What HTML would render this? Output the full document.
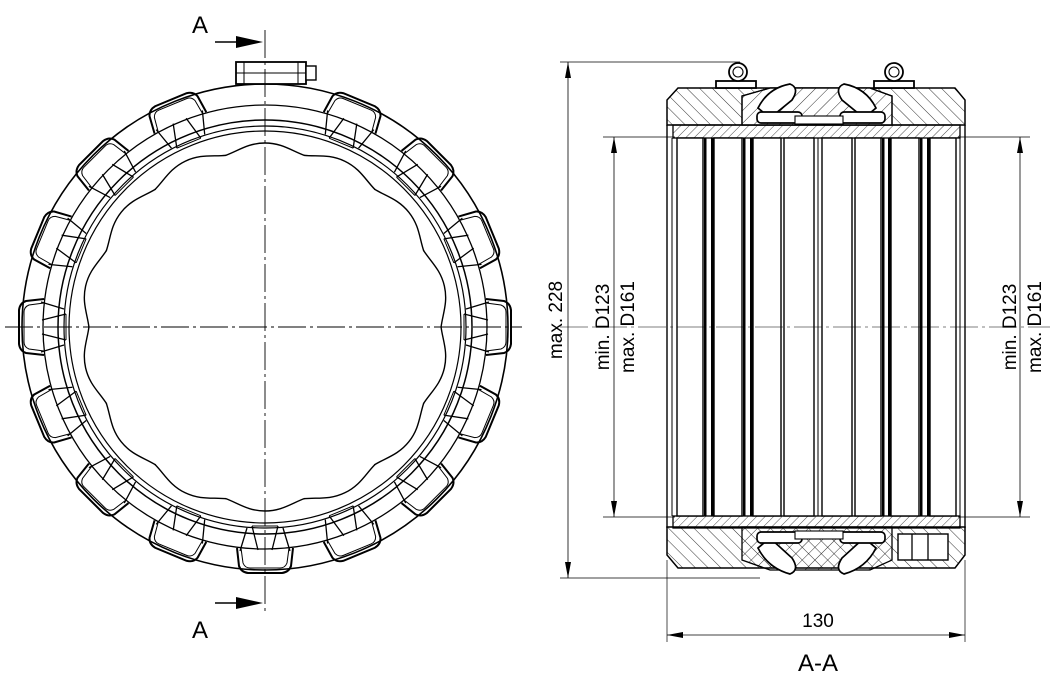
<!DOCTYPE html>
<html><head><meta charset="utf-8"><style>
html,body{margin:0;padding:0;background:#fff}
svg{display:block}
text{font-family:"Liberation Sans",sans-serif;fill:#000}
</style></head><body>
<svg width="1055" height="679" viewBox="0 0 1055 679" xmlns="http://www.w3.org/2000/svg">
<defs>
<pattern id="h1" patternUnits="userSpaceOnUse" width="9" height="9" patternTransform="rotate(45)"><line x1="0" y1="0" x2="0" y2="9" stroke="#000" stroke-width="0.8"/></pattern>
<pattern id="h2" patternUnits="userSpaceOnUse" width="9" height="9" patternTransform="rotate(-45)"><line x1="0" y1="0" x2="0" y2="9" stroke="#000" stroke-width="0.8"/></pattern>
<pattern id="h3" patternUnits="userSpaceOnUse" width="6" height="6" patternTransform="rotate(45)"><line x1="0" y1="0" x2="0" y2="6" stroke="#000" stroke-width="0.7"/></pattern>
<g id="pad">
  <path d="M237 106 L239 88 Q241 82 248 81 L282 81 Q289 82 291 88 L293 106" fill="none" stroke="#000" stroke-width="2"/>
  <path d="M241 106 L243 91 Q245 86 250 86 L280 86 Q285 86 287 91 L289 106" fill="none" stroke="#000" stroke-width="1"/>
  <path d="M247 126 L240 103 M252 128 L258 104 M283 126 L290 103 M278 128 L272 104" fill="none" stroke="#000" stroke-width="1.3"/>
  <path d="M252 128 L278 128" stroke="#000" stroke-width="1"/>
</g>
<g id="lobe">
  <path d="M225.4 155.5 C238 151 248 143 265 143 C282 143 292 151 304.6 155.5" fill="none" stroke="#000" stroke-width="1.4"/>
</g>
</defs>

<g>
  <circle cx="265" cy="327" r="243" fill="none" stroke="#000" stroke-width="1.6"/>
  <circle cx="265" cy="327" r="222" fill="none" stroke="#000" stroke-width="1.3"/>
  <circle cx="265" cy="327" r="207" fill="none" stroke="#000" stroke-width="1.5"/>
  <circle cx="265" cy="327" r="201" fill="none" stroke="#000" stroke-width="1.2"/>
  <circle cx="265" cy="327" r="196" fill="none" stroke="#000" stroke-width="1.2"/>
  <g>
    <use href="#pad" transform="rotate(22.5 265 327)"/>
    <use href="#pad" transform="rotate(45 265 327)"/>
    <use href="#pad" transform="rotate(67.5 265 327)"/>
    <use href="#pad" transform="rotate(90 265 327)"/>
    <use href="#pad" transform="rotate(112.5 265 327)"/>
    <use href="#pad" transform="rotate(135 265 327)"/>
    <use href="#pad" transform="rotate(157.5 265 327)"/>
    <use href="#pad" transform="rotate(180 265 327)"/>
    <use href="#pad" transform="rotate(202.5 265 327)"/>
    <use href="#pad" transform="rotate(225 265 327)"/>
    <use href="#pad" transform="rotate(247.5 265 327)"/>
    <use href="#pad" transform="rotate(270 265 327)"/>
    <use href="#pad" transform="rotate(292.5 265 327)"/>
    <use href="#pad" transform="rotate(315 265 327)"/>
    <use href="#pad" transform="rotate(337.5 265 327)"/>
  </g>
  <rect x="236" y="62" width="70" height="22" fill="#fff" stroke="#000" stroke-width="1.8"/>
  <line x1="244" y1="62" x2="244" y2="84" stroke="#000"/>
  <line x1="298" y1="62" x2="298" y2="84" stroke="#000"/>
  <rect x="306" y="66" width="10" height="14" fill="#fff" stroke="#000" stroke-width="1.4"/>
  <line x1="236" y1="73" x2="306" y2="73" stroke="#000" stroke-width="1"/>
  <g>
    <use href="#lobe"/>
    <use href="#lobe" transform="rotate(25.714 265 327)"/>
    <use href="#lobe" transform="rotate(51.43 265 327)"/>
    <use href="#lobe" transform="rotate(77.14 265 327)"/>
    <use href="#lobe" transform="rotate(102.86 265 327)"/>
    <use href="#lobe" transform="rotate(128.57 265 327)"/>
    <use href="#lobe" transform="rotate(154.29 265 327)"/>
    <use href="#lobe" transform="rotate(180 265 327)"/>
    <use href="#lobe" transform="rotate(205.71 265 327)"/>
    <use href="#lobe" transform="rotate(231.43 265 327)"/>
    <use href="#lobe" transform="rotate(257.14 265 327)"/>
    <use href="#lobe" transform="rotate(282.86 265 327)"/>
    <use href="#lobe" transform="rotate(308.57 265 327)"/>
    <use href="#lobe" transform="rotate(334.29 265 327)"/>
  </g>
  <line x1="265" y1="30" x2="265" y2="612" stroke="#000" stroke-width="0.9" stroke-dasharray="28 4 3 4"/>
  <line x1="5" y1="327" x2="522" y2="327" stroke="#000" stroke-width="0.9" stroke-dasharray="28 4 3 4"/>
  <line x1="215" y1="42" x2="240" y2="42" stroke="#000" stroke-width="1.6"/>
  <polygon points="236,36 263,42 236,48" fill="#000"/>
  <line x1="215" y1="603" x2="240" y2="603" stroke="#000" stroke-width="1.6"/>
  <polygon points="236,597 263,603 236,609" fill="#000"/>
  <text x="192" y="33" font-size="24">A</text>
  <text x="192" y="638" font-size="24">A</text>
</g>

<g stroke="#000">
  <line x1="560" y1="62" x2="740" y2="62" stroke-width="0.7"/>
  <line x1="560" y1="578" x2="760" y2="578" stroke-width="0.7"/>
  <line x1="603" y1="137" x2="675" y2="137" stroke-width="0.7"/>
  <line x1="603" y1="517" x2="675" y2="517" stroke-width="0.7"/>
  <line x1="958" y1="137" x2="1030" y2="137" stroke-width="0.7"/>
  <line x1="958" y1="517" x2="1030" y2="517" stroke-width="0.7"/>
  <line x1="667" y1="560" x2="667" y2="642" stroke-width="0.7"/>
  <line x1="965" y1="560" x2="965" y2="642" stroke-width="0.7"/>

  <path d="M678 88 L955 88 L965 100 L965 125 L667 125 L667 100 Z" fill="url(#h2)" stroke-width="1.5"/>
  <path d="M742 125 L742 96 L770 88 L870 88 L892 96 L892 125 Z" fill="#fff" stroke-width="1.3"/>
  <path d="M742 125 L742 96 L770 88 L870 88 L892 96 L892 125 Z" fill="url(#h1)" stroke-width="1.3"/>
  <path d="M758 108 Q768 88 790 84 Q800 88 792 100 L770 118 Z" fill="#fff" stroke-width="1.7"/>
  <path d="M876 108 Q866 88 844 84 Q834 88 842 100 L864 118 Z" fill="#fff" stroke-width="1.7"/>
  <rect x="757" y="112" width="45" height="11" rx="4" fill="#fff" stroke-width="1.7"/>
  <rect x="840" y="112" width="45" height="11" rx="4" fill="#fff" stroke-width="1.7"/>
  <rect x="795" y="116" width="48" height="8" fill="#fff" stroke-width="1.1"/>
  <rect x="716" y="81" width="40" height="7" fill="#fff" stroke-width="1.8"/>
  <circle cx="738" cy="72" r="9" fill="#fff" stroke-width="1.8"/><circle cx="738" cy="72" r="5" fill="none" stroke-width="1.1"/>
  <rect x="874" y="81" width="40" height="7" fill="#fff" stroke-width="1.8"/>
  <circle cx="894" cy="72" r="9" fill="#fff" stroke-width="1.8"/><circle cx="894" cy="72" r="5" fill="none" stroke-width="1.1"/>
  <rect x="673" y="125" width="287" height="13" fill="url(#h3)" stroke-width="1.3"/>

  <path d="M667 527 L965 527 L965 555 L955 568 L678 568 L667 555 Z" fill="url(#h2)" stroke-width="1.5"/>
  <path d="M742 527 L742 560 L770 570 L870 570 L892 560 L892 527 Z" fill="url(#h1)" stroke-width="1.3"/>
  <path d="M758 548 Q768 568 790 574 Q800 570 792 558 L770 538 Z" fill="#fff" stroke-width="1.7"/>
  <path d="M876 548 Q866 568 844 574 Q834 570 842 558 L864 538 Z" fill="#fff" stroke-width="1.7"/>
  <rect x="757" y="532" width="45" height="11" rx="4" fill="#fff" stroke-width="1.7"/>
  <rect x="840" y="532" width="45" height="11" rx="4" fill="#fff" stroke-width="1.7"/>
  <rect x="795" y="531" width="48" height="8" fill="#fff" stroke-width="1.1"/>
  <rect x="898" y="534" width="50" height="26" fill="#fff" stroke-width="1.4"/>
  <line x1="912" y1="534" x2="912" y2="560" stroke-width="1.3"/><line x1="928" y1="534" x2="928" y2="560" stroke-width="1.3"/>
  <rect x="673" y="516" width="287" height="12" fill="url(#h3)" stroke-width="1.3"/>

  <g fill="#fff" stroke-width="1.4">
    <rect x="677" y="138" width="26" height="378"/>
    <rect x="714" y="138" width="28" height="378"/>
    <rect x="753" y="138" width="28" height="378"/>
    <rect x="784" y="138" width="30" height="378"/>
    <rect x="822" y="138" width="30" height="378"/>
    <rect x="855" y="138" width="26" height="378"/>
    <rect x="891" y="138" width="28" height="378"/>
    <rect x="930" y="138" width="26" height="378"/>
  </g>
  <g fill="#000" stroke="none">
    <rect x="704" y="138" width="2.5" height="378"/><rect x="711" y="138" width="2.5" height="378"/>
    <rect x="743" y="138" width="2.5" height="378"/><rect x="750" y="138" width="2.5" height="378"/>
    <rect x="882" y="138" width="2.5" height="378"/><rect x="888" y="138" width="2.5" height="378"/>
    <rect x="920" y="138" width="2.5" height="378"/><rect x="927" y="138" width="2.5" height="378"/>
  </g>
  <line x1="818" y1="138" x2="818" y2="516" stroke-width="1"/>
  <line x1="667" y1="125" x2="667" y2="528" stroke-width="1.4"/>
  <line x1="965" y1="125" x2="965" y2="528" stroke-width="1.4"/>
  <line x1="672" y1="138" x2="672" y2="516" stroke-width="1"/>
  <line x1="960" y1="138" x2="960" y2="516" stroke-width="1"/>
  <line x1="560" y1="327" x2="1050" y2="327" stroke-width="0.6" stroke-dasharray="28 4 3 4"/>

  <line x1="568" y1="62" x2="568" y2="578" stroke-width="0.8"/>
  <polygon points="568,62 565,78 571,78" fill="#000" stroke="none"/>
  <polygon points="568,578 565,562 571,562" fill="#000" stroke="none"/>
  <line x1="614" y1="137" x2="614" y2="517" stroke-width="0.8"/>
  <polygon points="614,137 611,153 617,153" fill="#000" stroke="none"/>
  <polygon points="614,517 611,501 617,501" fill="#000" stroke="none"/>
  <line x1="1020" y1="137" x2="1020" y2="517" stroke-width="0.8"/>
  <polygon points="1020,137 1017,153 1023,153" fill="#000" stroke="none"/>
  <polygon points="1020,517 1017,501 1023,501" fill="#000" stroke="none"/>
  <line x1="667" y1="635" x2="965" y2="635" stroke-width="0.8"/>
  <polygon points="667,635 683,632 683,638" fill="#000" stroke="none"/>
  <polygon points="965,635 949,632 949,638" fill="#000" stroke="none"/>
</g>
<text x="818" y="627" font-size="19" text-anchor="middle">130</text>
<text x="818" y="671" font-size="24" text-anchor="middle">A-A</text>
<text transform="translate(562 320) rotate(-90)" font-size="19" text-anchor="middle">max. 228</text>
<text transform="translate(609 327) rotate(-90)" font-size="19" text-anchor="middle">min. D123</text>
<text transform="translate(634 327) rotate(-90)" font-size="19" text-anchor="middle">max. D161</text>
<text transform="translate(1016 327) rotate(-90)" font-size="19" text-anchor="middle">min. D123</text>
<text transform="translate(1041 327) rotate(-90)" font-size="19" text-anchor="middle">max. D161</text>
</svg>
</body></html>
